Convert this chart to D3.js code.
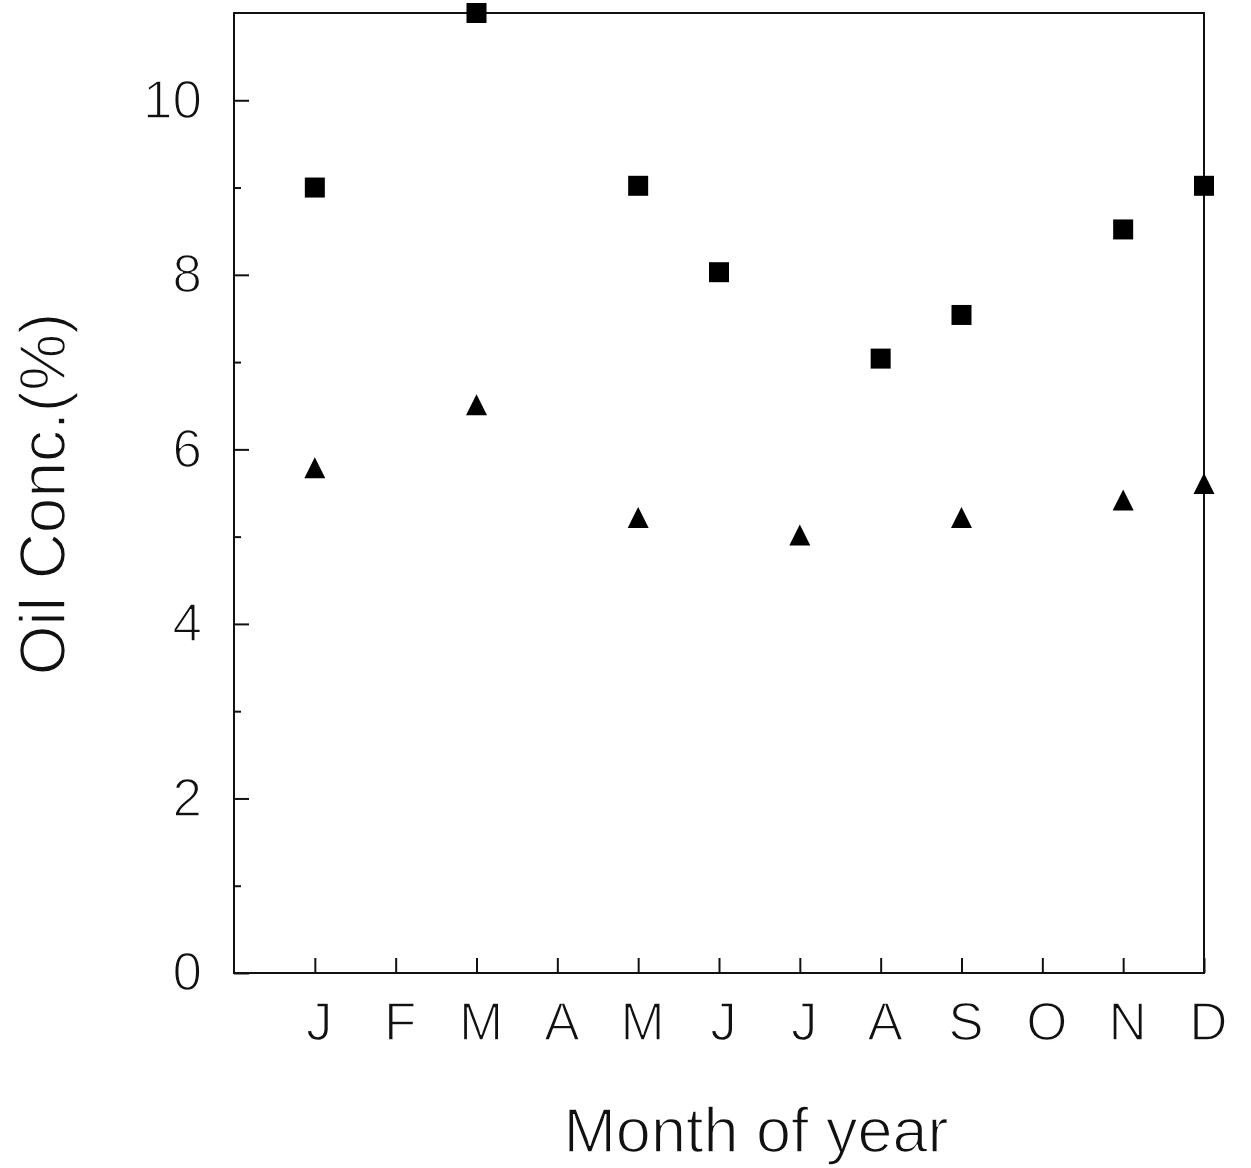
<!DOCTYPE html>
<html>
<head>
<meta charset="utf-8">
<script src="https://cdn.jsdelivr.net/npm/d3@7"></script>
<style>
  body { margin: 0; background: #fff; }
  svg text { font-family: "Liberation Sans", Arial, sans-serif; fill: #111; stroke: #fff; stroke-width: 1.6px; paint-order: normal; }
</style>
</head>
<body>
<svg id="chart" width="1251" height="1168"></svg>
<script>
// month index 1..12 and tick labels
const months = [1, 2, 3, 4, 5, 6, 7, 8, 9, 10, 11, 12];
const monthLabels = ["J", "F", "M", "A", "M", "J", "J", "A", "S", "O", "N", "D"];

// squares series
const squareMonths = [1, 3, 5, 6, 8, 9, 11, 12];
const squareValues = [9.0, 11.0, 9.02, 8.03, 7.04, 7.54, 8.52, 9.02];

// triangles series
const triangleMonths = [1, 3, 5, 7, 9, 11, 12];
const triangleValues = [5.79, 6.51, 5.22, 5.02, 5.22, 5.42, 5.61];

const yMajor = [0, 2, 4, 6, 8, 10];
const yMinor = [1, 3, 5, 7, 9];

const margin = { left: 234, right: 47, top: 13, bottom: 195 };
const width = 1251, height = 1168;

const svg = d3.select("#chart");

// scales
const x = d3.scaleLinear().domain([0, 12]).range([margin.left, width - margin.right]);
const y = d3.scaleLinear().domain([0, 11]).range([height - margin.bottom, margin.top]);

// frame
svg.append("rect")
  .attr("x", x(0)).attr("y", y(11))
  .attr("width", x(12) - x(0)).attr("height", y(0) - y(11))
  .attr("fill", "none").attr("stroke", "#111").attr("stroke-width", 2);

// left axis, major ticks with labels
const yAxis = g => g
  .attr("transform", "translate(" + x(0) + ",0)")
  .call(d3.axisLeft(y).tickValues(yMajor).tickSize(-15).tickPadding(32).tickFormat(d3.format("d")))
  .call(g => g.select(".domain").remove())
  .call(g => g.selectAll("line").attr("stroke", "#111").attr("stroke-width", 2))
  .call(g => g.selectAll("text").attr("font-size", 53).attr("fill", "#111"));
svg.append("g").call(yAxis);

// left axis, minor ticks
svg.append("g")
  .attr("transform", "translate(" + x(0) + ",0)")
  .call(d3.axisLeft(y).tickValues(yMinor).tickSize(-7).tickFormat(""))
  .call(g => g.select(".domain").remove())
  .call(g => g.selectAll("line").attr("stroke", "#111").attr("stroke-width", 2));

// bottom axis
const xAxis = g => g
  .attr("transform", "translate(0," + y(0) + ")")
  .call(d3.axisBottom(x).tickValues(months).tickSize(-15).tickPadding(29)
    .tickFormat((d, i) => monthLabels[i]))
  .call(g => g.select(".domain").remove())
  .call(g => g.selectAll("line").attr("stroke", "#111").attr("stroke-width", 2))
  .call(g => g.selectAll("text").attr("font-size", 53).attr("fill", "#111").attr("dx", 4));
svg.append("g").call(xAxis);

// markers
const sq = 20;
svg.append("g").selectAll("rect")
  .data(squareMonths)
  .join("rect")
  .attr("x", (d, i) => x(d) - sq / 2)
  .attr("y", (d, i) => y(squareValues[i]) - sq / 2)
  .attr("width", sq).attr("height", sq)
  .attr("fill", "#000");

const tri = 21;
svg.append("g").selectAll("path")
  .data(triangleMonths)
  .join("path")
  .attr("d", (d, i) => {
    const cx = x(d), cy = y(triangleValues[i]);
    return "M" + cx + "," + (cy - tri / 2) + "L" + (cx + tri / 2) + "," + (cy + tri / 2) + "L" + (cx - tri / 2) + "," + (cy + tri / 2) + "Z";
  })
  .attr("fill", "#000");

// axis titles
svg.append("text")
  .attr("x", 756).attr("y", 1152)
  .attr("text-anchor", "middle")
  .attr("font-size", 63)
  .text("Month of year");

svg.append("text")
  .attr("transform", "translate(65,494) rotate(-90)")
  .attr("text-anchor", "middle")
  .attr("font-size", 64)
  .text("Oil Conc.(%)");
</script>
</body>
</html>
